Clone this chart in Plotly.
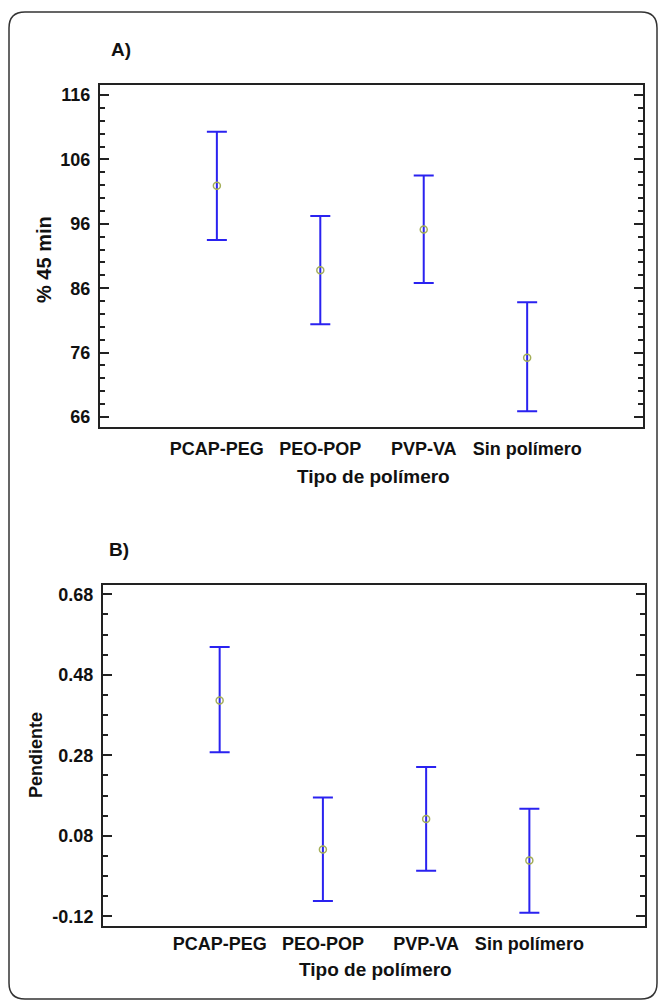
import plotly.graph_objects as go

categories = ["PCAP-PEG", "PEO-POP", "PVP-VA", "Sin polímero"]

# Panel A: % disuelto a 45 min
a_mean = [101.9, 88.8, 95.1, 75.2]
a_upper = [110.3, 97.2, 103.5, 83.8]
a_lower = [93.5, 80.4, 86.8, 66.9]

# Panel B: Pendiente
b_mean = [0.416, 0.046, 0.122, 0.019]
b_upper = [0.549, 0.175, 0.251, 0.147]
b_lower = [0.2875, -0.082, -0.007, -0.111]

a_ticks = [66, 76, 86, 96, 106, 116]
b_ticks = [-0.12, 0.08, 0.28, 0.48, 0.68]

W, H = 659, 1004
FONT = "Liberation Sans, Arial, sans-serif"
BAR_COLOR = "#2a22f0"
MARK_COLOR = "#a4ae58"

xpos = list(range(len(categories)))

fig = go.Figure()


def add_panel(mean, upper, lower, xa, ya):
    fig.add_trace(go.Scatter(
        x=xpos, y=mean, mode="markers",
        marker=dict(symbol="circle-open", size=7, color=MARK_COLOR, line=dict(width=1.5)),
        error_y=dict(type="data", symmetric=False,
                     array=[u - m for u, m in zip(upper, mean)],
                     arrayminus=[m - l for m, l in zip(mean, lower)],
                     color=BAR_COLOR, thickness=2, width=10),
        xaxis=xa, yaxis=ya, showlegend=False, hoverinfo="skip"))


add_panel(a_mean, a_upper, a_lower, "x", "y")
add_panel(b_mean, b_upper, b_lower, "x2", "y2")


def px_x(p):
    return p / W


def px_y(p):
    return 1 - p / H


xcommon = dict(range=[-1.13, 4.12], tickvals=xpos, ticktext=categories,
               showline=True, linecolor="#222", linewidth=2, mirror=True,
               ticks="", showgrid=False, zeroline=False, automargin=False,
               tickfont=dict(family=FONT, size=18, color="#111", weight="bold"))
ycommon = dict(showline=True, linecolor="#222", linewidth=2, mirror="ticks",
               ticks="inside", ticklen=9, tickwidth=1.5, tickcolor="#222",
               showgrid=False, zeroline=False, automargin=False,
               ticklabelstandoff=4,
               tickfont=dict(family=FONT, size=18, color="#111", weight="bold"))

fig.update_layout(
    width=W, height=H,
    margin=dict(l=0, r=0, t=0, b=0),
    paper_bgcolor="white", plot_bgcolor="white",
    xaxis=dict(domain=[px_x(100), px_x(643)], anchor="y", ticklabelstandoff=4, **xcommon),
    yaxis=dict(domain=[px_y(427), px_y(85)], anchor="x", range=[64.45, 117.55],
               tickvals=a_ticks, ticktext=[str(t) for t in a_ticks],
               minor=dict(dtick=2, tick0=66, ticks="inside", ticklen=5,
                          tickwidth=1.5, tickcolor="#222", showgrid=False),
               **ycommon),
    xaxis2=dict(domain=[px_x(103), px_x(645)], anchor="y2", ticklabelstandoff=0, **xcommon),
    yaxis2=dict(domain=[px_y(926), px_y(585)], anchor="x2", range=[-0.144, 0.703],
                tickvals=b_ticks, ticktext=[f"{t:.2f}" for t in b_ticks],
                minor=dict(dtick=0.05, tick0=-0.12, ticks="inside", ticklen=5,
                           tickwidth=1.5, tickcolor="#222", showgrid=False),
                **ycommon),
)

# outer rounded frame
x0, y0, x1, y1, r = 9, 12, 657, 999, 16
path = (f"M {x0 + r},{y0} L {x1 - r},{y0} Q {x1},{y0} {x1},{y0 + r} "
        f"L {x1},{y1 - r} Q {x1},{y1} {x1 - r},{y1} L {x0 + r},{y1} "
        f"Q {x0},{y1} {x0},{y1 - r} L {x0},{y0 + r} Q {x0},{y0} {x0 + r},{y0} Z")


def conv(seg):
    out = []
    for tok in seg.split(" "):
        if "," in tok:
            a, b = tok.split(",")
            out.append(f"{px_x(float(a)):.5f},{px_y(float(b)):.5f}")
        else:
            out.append(tok)
    return " ".join(out)


fig.add_shape(type="path", path=conv(path), xref="paper", yref="paper",
              line=dict(color="#333", width=1.5), fillcolor="rgba(0,0,0,0)")


def ann(text, x, y, size, angle=0):
    fig.add_annotation(text=f"<b>{text}</b>", x=px_x(x), y=px_y(y), xref="paper", yref="paper",
                       showarrow=False, textangle=angle, xanchor="center", yanchor="middle",
                       font=dict(family=FONT, size=size, color="#111"))


ann("A)", 121, 50, 19)
ann("B)", 119, 549, 19)
ann("% 45 min", 44, 260, 20, -90)
ann("Pendiente", 36, 755, 18, -90)
ann("Tipo de polímero", 373, 476, 19)
ann("Tipo de polímero", 375, 969, 19)

fig.write_html("out.html")
